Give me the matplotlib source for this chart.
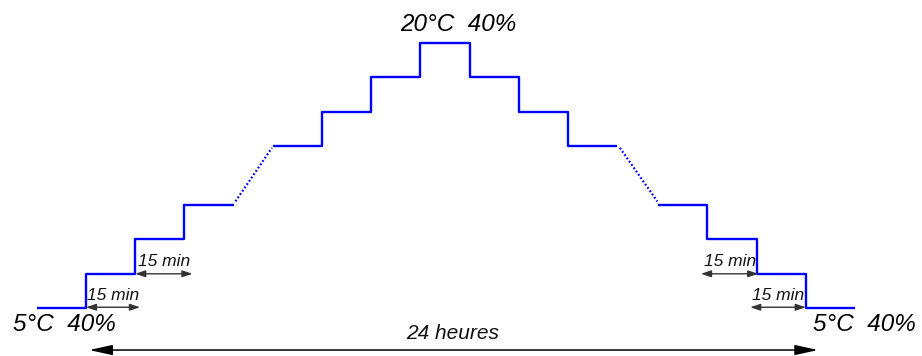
import matplotlib
matplotlib.use("Agg")
import matplotlib.pyplot as plt

plt.rcParams['font.family'] = ['Liberation Sans', 'DejaVu Sans']

# time axis in minutes (schematic), levels in temperature steps
rise_t = [0, 15, 30, 45, 60]
rise_lvl = [0, 1, 2, 3, 3]
top_t = [72, 87, 102, 117, 132, 147, 162, 177]
top_lvl = [4.7, 5.7, 6.7, 7.7, 6.7, 5.7, 4.7, 4.7]
fall_t = [189.5, 204.5, 219.5, 234.5, 249.5]
fall_lvl = [3, 2, 1, 0, 0]

# duration arrows: (start, end, level)
step_arrows = [(15, 31.5, 0.03), (30, 47.5, 1.0), (202.5, 220, 1.0), (217.5, 234.5, 0.03)]
step_label = "15 min"

start_label = "5°C  40%"
peak_label = "20°C  40%"
end_label = "5°C  40%"
span_label = "24 heures"
span = (16, 238.2)

fig = plt.figure(figsize=(9.22, 3.56), dpi=100)
ax = fig.add_axes([0, 0, 1, 1])
ax.set_xlim(-11.19, 269.9)
ax.set_ylim(-1.383, 8.936)
ax.axis('off')

blue = '#0000ff'
for t, lvl in [(rise_t, rise_lvl), (top_t, top_lvl), (fall_t, fall_lvl)]:
    ax.plot(t, lvl, drawstyle='steps-post', color=blue, lw=1.7, solid_capstyle='butt')

# dotted links between the step groups
ax.plot([rise_t[-1] + 0.6, top_t[0] - 0.3], [rise_lvl[-1] + 0.1, top_lvl[0] - 0.05],
        color=blue, lw=1.6, linestyle=(0, (0.8, 1.0)))
ax.plot([top_t[-1] + 0.8, fall_t[0] - 0.3], [top_lvl[-1] - 0.05, fall_lvl[0] + 0.1],
        color=blue, lw=1.6, linestyle=(0, (0.8, 1.0)))

for x0, x1, lvl in step_arrows:
    ax.annotate('', xy=(x1, lvl), xytext=(x0, lvl),
                arrowprops=dict(arrowstyle='<|-|>,head_length=0.6,head_width=0.2',
                                color='#333333', lw=1.0, shrinkA=0, shrinkB=0,
                                mutation_scale=10))
    ax.text((x0 + x1) / 2, lvl + 0.35, step_label, ha='center', va='center',
            fontsize=12.5, style='italic', color='#111111')

ax.annotate('', xy=(span[1], -1.21), xytext=(span[0], -1.21),
            arrowprops=dict(arrowstyle='<|-|>,head_length=1.0,head_width=0.22',
                            color='black', lw=1.1, shrinkA=0, shrinkB=0,
                            mutation_scale=14))
ax.text((span[0] + span[1]) / 2 - 0.3, -0.74, span_label, ha='center', va='center',
        fontsize=15, style='italic', color='#111111')

ax.text(8.6, -0.48, start_label, ha='center', va='center', fontsize=17.5, style='italic')
ax.text(252.5, -0.48, end_label, ha='center', va='center', fontsize=17.5, style='italic')
ax.text(128.4, 8.24, peak_label, ha='center', va='center', fontsize=17.5, style='italic')

fig.savefig('out.png', dpi=100)
